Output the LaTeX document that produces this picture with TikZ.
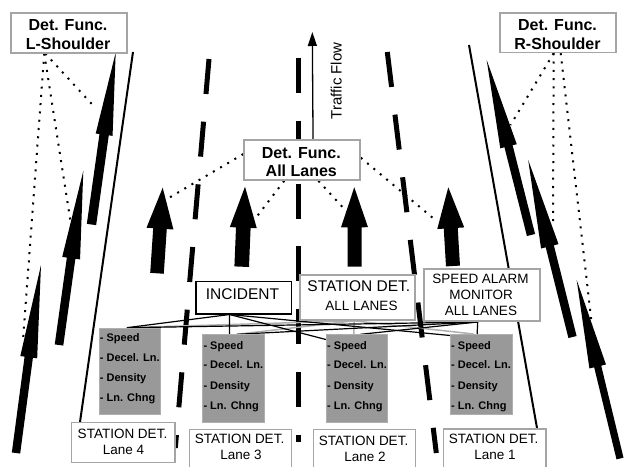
\documentclass[tikz,border=0pt]{standalone}
\usepackage{fontspec}
\setmainfont{Liberation Sans}
\usetikzlibrary{calc,arrows.meta}
\pgfdeclarelayer{bg}
\pgfsetlayers{bg,main}
\definecolor{boxgray}{RGB}{165,165,165}
\definecolor{fillgray}{RGB}{153,153,153}
\definecolor{linegray}{RGB}{175,175,175}
\newcommand{\blockarrow}[5]{%
  \coordinate (ArS) at (#1);
  \coordinate (ArT) at (#2);
  \coordinate (ArH) at ($(ArT)!#5pt!(ArS)$);
  \fill[black] (ArT)
    -- ($(ArH)!#4pt!90:(ArT)$)
    -- ($(ArH)!#3pt!90:(ArT)$)
    -- ($(ArS)!#3pt!90:(ArT)$)
    -- ($(ArS)!#3pt!-90:(ArT)$)
    -- ($(ArH)!#3pt!-90:(ArT)$)
    -- ($(ArH)!#4pt!-90:(ArT)$)
    -- cycle;
}
\tikzset{
  frame/.style={draw=boxgray, line width=1.5pt, fill=white, inner sep=0pt, anchor=north west, rectangle},
  bframe/.style={draw=black, line width=1.2pt, fill=white, inner sep=0pt, anchor=north west, rectangle},
  gbox/.style={draw=linegray, line width=1pt, fill=fillgray, inner sep=0pt, anchor=north west, rectangle},
  detf/.style={font=\fontsize{16}{18}\selectfont\bfseries, inner sep=0pt, anchor=base},
  bigt/.style={font=\fontsize{15.5}{18}\selectfont, inner sep=0pt, anchor=base},
  midt/.style={font=\fontsize{13.5}{16}\selectfont, inner sep=0pt, anchor=base},
  gtxt/.style={font=\fontsize{11}{13}\selectfont\bfseries, inner sep=0pt, anchor=base west},
  roadedge/.style={line width=2pt, black},
  lanedash/.style={line width=5pt, black},
  dotl/.style={line width=2pt, black, dash pattern=on 2pt off 6.3pt},
  bconn/.style={line width=1.2pt, black},
  gconn/.style={line width=1.5pt, linegray},
  flowline/.style={line width=1.3pt, -{Triangle[length=14pt,width=9pt]}}
}
\begin{document}
\begin{tikzpicture}[x=1pt,y=-1pt]
\useasboundingbox (0,0) rectangle (624,466);

% ---------- boxes ----------
\node[frame, minimum width=116pt, minimum height=40pt] (ls) at (10,12) {};
\node[frame, minimum width=116.3pt, minimum height=39.4pt] (rs) at (499,12.3) {};
\node[frame, minimum width=116pt, minimum height=40pt] (al) at (243.3,139.3) {};
\node[bframe, minimum width=95.7pt, minimum height=32.3pt] (inc) at (195.3,281) {};
\node[frame, minimum width=115.3pt, minimum height=45.3pt] (sta) at (299,274) {};
\node[frame, line width=2pt, minimum width=115.4pt, minimum height=51.7pt] (spd) at (423.3,268.3) {};
\node[frame, line width=1.2pt, minimum width=103.3pt, minimum height=39.7pt] (l4) at (71,422) {};
\node[frame, line width=1.2pt, minimum width=102.3pt, minimum height=50pt] (l3) at (188.7,429) {};
\node[frame, line width=1.2pt, minimum width=102pt, minimum height=50pt] (l2) at (312.7,429) {};
\node[frame, line width=1.2pt, minimum width=102.3pt, minimum height=50pt] (l1) at (443,428.3) {};
\node[gbox, minimum width=61.3pt, minimum height=86.6pt] (g1) at (98.7,327.7) {};
\node[gbox, minimum width=61.4pt, minimum height=87.4pt] (g2) at (202.3,334.3) {};
\node[gbox, minimum width=61.3pt, minimum height=87.4pt] (g3) at (326,334.3) {};
\node[gbox, minimum width=61.7pt, minimum height=80.3pt] (g4) at (450,334) {};

% ---------- texts ----------
\node[detf] (lst1) at (68,30.7) {Det. Func.};
\node[detf] (lst2) at (68,49.3) {L-Shoulder};
\node[detf] (rst1) at (557.5,30.7) {Det. Func.};
\node[detf] (rst2) at (557.5,49.3) {R-Shoulder};
\node[detf] (alt1) at (301.3,158.3) {Det. Func.};
\node[detf] (alt2) at (301.3,176) {All Lanes};
\node[bigt] (inct) at (242.5,299.3) {INCIDENT};
\node[bigt] (stat1) at (358.8,291.7) {STATION DET.};
\node[midt] (stat2) at (361.5,310.7) {ALL LANES};
\node[midt] (spdt1) at (480.5,283.3) {SPEED ALARM};
\node[midt] (spdt2) at (481,299) {MONITOR};
\node[midt] (spdt3) at (481,315) {ALL LANES};
\node[midt] (l4t1) at (122.5,438.3) {STATION DET.};
\node[midt] (l4t2) at (123.5,454) {Lane 4};
\node[midt] (l3t1) at (239.5,443.3) {STATION DET.};
\node[midt] (l3t2) at (241,459) {Lane 3};
\node[midt] (l2t1) at (363.5,445.7) {STATION DET.};
\node[midt] (l2t2) at (365,461) {Lane 2};
\node[midt] (l1t1) at (493.5,443.3) {STATION DET.};
\node[midt] (l1t2) at (495,459.3) {Lane 1};
\foreach \n/\x/\a/\b/\c/\d in {1/99.7/341/361.7/381.7/401.7, 2/203.3/349.3/368.3/389.3/409, 3/327/349.3/368.3/389/409, 4/451/349.3/368.3/389/409}{
  \node[gtxt] (sp\n) at (\x,\a) {- Speed};
  \node[gtxt] (de\n) at (\x,\b) {- Decel. Ln.};
  \node[gtxt] (dn\n) at (\x,\c) {- Density};
  \node[gtxt] (lc\n) at (\x,\d) {- Ln. Chng};
}
\node[font=\fontsize{15}{18}\selectfont, inner sep=0pt, anchor=base, rotate=90] (tf) at (341.5,81) {Traffic Flow};

\begin{pgfonlayer}{bg}
% road edges
\draw[roadedge] (133,52) -- (80,422);
\draw[roadedge] (469,45) -- (537,428);
% lane dashes
\draw[lanedash, dash pattern=on 35.1pt off 27.8pt] (209,59) -- (175.3,448);
\draw[lanedash, dash pattern=on 35pt off 27.9pt] (298.3,57.7) -- (298.3,442);
\draw[lanedash, dash pattern=on 35.2pt off 27.9pt] (387.3,52) -- (436.3,453);
% traffic flow arrow
\coordinate (tftip) at (312.3,32);
\draw[flowline] ([xshift=11pt]al.north) -- (tftip);
% big arrows
\blockarrow{91.5,224.5}{115.7,52.5}{4.7}{8.5}{83}
\blockarrow{59,345}{83.3,171}{4.3}{9}{88}
\blockarrow{16,453}{41,265}{4.2}{8.5}{93}
\blockarrow{531,235}{486.7,60}{4.2}{8.5}{89}
\blockarrow{572.5,337}{528.2,160}{4.2}{9}{89}
\blockarrow{620,458.5}{576.7,280}{3.6}{8.5}{89}
\blockarrow{157,273.3}{162.7,187.7}{6.8}{13.5}{41}
\blockarrow{241.7,266.7}{245,186.7}{7.3}{13.5}{41}
\blockarrow{354.7,266.7}{354.3,187.3}{7}{13.5}{40}
\blockarrow{453,266}{448.3,187.3}{7}{13.5}{41}
% dotted lines
\coordinate (lsd1) at (23,340);
\coordinate (lsd2) at (70.5,221.5);
\coordinate (lsd3) at (95,107.5);
\draw[dotl] ([xshift=-24.5pt]ls.south) -- (lsd1);
\draw[dotl] ([xshift=-24.5pt]ls.south) -- (lsd2);
\draw[dotl] ([xshift=-23.5pt]ls.south) -- (lsd3);
\coordinate (rsd1) at (510.5,125);
\coordinate (rsd2) at (553,223);
\coordinate (rsd3) at (591.5,322);
\draw[dotl] ([xshift=-4.2pt]rs.south) -- (rsd1);
\draw[dotl] ([xshift=-4.2pt]rs.south) -- (rsd2);
\draw[dotl] ([xshift=2.8pt]rs.south) -- (rsd3);
\coordinate (ald1) at (167,199);
\coordinate (ald2) at (256.7,216.7);
\coordinate (ald3) at (346.7,211.7);
\coordinate (ald4) at (433.3,218.3);
\draw[dotl] ([yshift=6pt]al.west) -- (ald1);
\draw[dotl] ([xshift=-17.8pt]al.south) -- (ald2);
\draw[dotl] ([xshift=16.4pt]al.south) -- (ald3);
\draw[dotl] ([yshift=2.3pt]al.east) -- (ald4);
% connectors: station all lanes (grey)
\draw[gconn] ([xshift=-3.3pt]sta.south) -- ([xshift=-3pt]g1.north);
\draw[gconn] ([xshift=-3.3pt]sta.south) -- ([xshift=3.5pt]g2.north);
\draw[gconn] ([xshift=-3.3pt]sta.south) -- ([xshift=-3.3pt]g3.north);
\draw[gconn] ([xshift=-3.3pt]sta.south) -- ([xshift=-7.8pt]g4.north);
% connectors: incident (black)
\draw[bconn] ([xshift=-14.2pt]inc.south) -- ([xshift=-3pt]g1.north);
\draw[bconn] ([xshift=-14.2pt]inc.south) -- ([xshift=-4pt]g2.north);
\draw[bconn] ([xshift=-14.2pt]inc.south) -- ([xshift=-16.6pt,yshift=-9pt]g3.north);
\draw[bconn] ([xshift=-14.2pt]inc.south) -- ([xshift=-25.8pt,yshift=-2pt]g4.north);
% connectors: speed alarm (black)
\draw[bconn] ([xshift=-4.3pt]spd.south) -- ([xshift=-3pt]g1.north);
\draw[bconn] ([xshift=-4.3pt]spd.south) -- ([xshift=3.5pt]g2.north);
\draw[bconn] ([xshift=-4.3pt]spd.south) -- ([xshift=3.4pt]g3.north);
\draw[bconn] ([xshift=-4.3pt]spd.south) -- ([xshift=-4.2pt]g4.north);
\end{pgfonlayer}
\end{tikzpicture}
\end{document}
